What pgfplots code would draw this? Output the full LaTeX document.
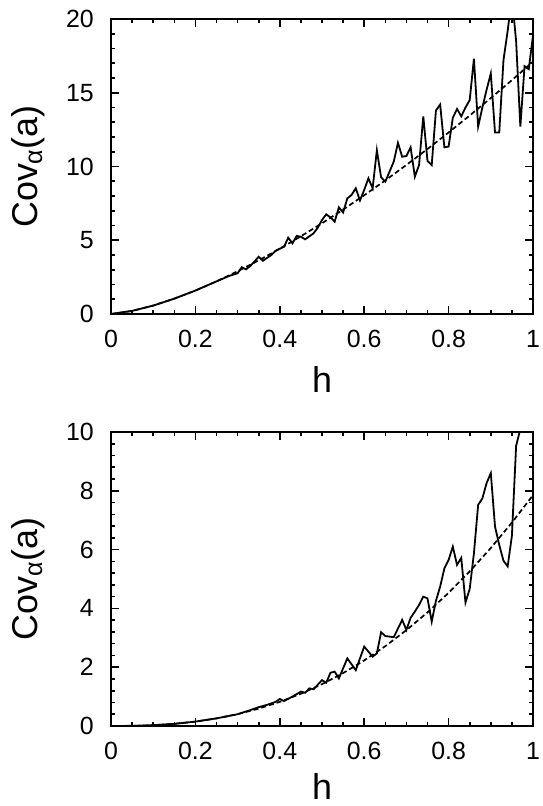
\documentclass[border=0pt]{standalone}
\usepackage{fontspec}
\setmainfont{Liberation Sans}
\usepackage{pgfplots}
\usepackage{pgfplotstable}
\pgfplotsset{compat=1.18}

\pgfplotstableread{
h v
0 0
0.05 0.21
0.10 0.57
0.15 1.04
0.20 1.59
0.25 2.21
0.28 2.58
0.30 2.76
0.31 3.17
0.32 3.03
0.33 3.25
0.35 3.88
0.36 3.61
0.38 4.00
0.39 4.29
0.41 4.56
0.42 5.17
0.43 4.79
0.44 5.29
0.45 5.24
0.46 5.06
0.48 5.47
0.49 5.85
0.50 6.37
0.51 6.76
0.52 6.55
0.53 6.26
0.54 7.23
0.55 6.88
0.56 7.84
0.57 8.07
0.58 8.52
0.59 7.70
0.60 8.41
0.61 9.20
0.62 8.52
0.63 11.1
0.64 9.27
0.65 8.97
0.66 9.65
0.67 10.33
0.68 11.6
0.69 10.66
0.70 10.71
0.71 11.3
0.72 9.31
0.73 10.1
0.74 13.4
0.75 10.37
0.76 10.1
0.77 13.8
0.78 14.2
0.79 11.3
0.80 11.35
0.81 13.3
0.82 13.9
0.83 13.4
0.84 14.0
0.85 14.5
0.86 17.3
0.87 12.7
0.88 14.0
0.89 15.2
0.90 16.3
0.91 12.3
0.92 12.3
0.93 17.2
0.94 19.2
0.95 21.5
0.96 18.5
0.97 12.7
0.98 16.8
0.99 16.6
1.00 18.9
}\topsolid

\pgfplotstableread{
h v
0 0
0.05 0.206
0.10 0.573
0.15 1.042
0.20 1.592
0.25 2.213
0.30 2.895
0.35 3.635
0.40 4.427
0.45 5.266
0.50 6.151
0.55 7.079
0.60 8.049
0.65 9.058
0.70 10.104
0.75 11.187
0.80 12.305
0.85 13.456
0.90 14.640
0.95 15.853
1.00 17.100
}\topdashed

\pgfplotstableread{
h v
0 0
0.05 0.005
0.10 0.027
0.15 0.073
0.20 0.15
0.25 0.26
0.30 0.40
0.33 0.54
0.35 0.64
0.37 0.72
0.39 0.82
0.40 0.92
0.41 0.85
0.43 1.00
0.45 1.17
0.46 1.13
0.47 1.28
0.48 1.25
0.50 1.56
0.51 1.47
0.52 1.81
0.53 1.85
0.54 1.62
0.56 2.30
0.58 1.90
0.60 2.70
0.62 2.36
0.63 2.47
0.64 3.19
0.65 3.06
0.67 3.02
0.69 3.61
0.70 3.27
0.71 3.68
0.72 3.89
0.73 4.12
0.74 4.40
0.75 4.34
0.76 3.55
0.77 4.26
0.78 4.74
0.79 5.36
0.80 5.65
0.81 6.10
0.82 5.48
0.83 5.72
0.84 4.20
0.85 4.66
0.86 5.87
0.87 7.52
0.88 7.74
0.89 8.26
0.90 8.60
0.91 6.78
0.92 6.16
0.93 5.62
0.94 5.43
0.95 6.47
0.96 9.53
0.97 10.1
0.98 10.6
0.99 11.0
1.00 11.5
}\botsolid

\pgfplotstableread{
h v
0 0
0.05 0.005
0.10 0.027
0.15 0.073
0.20 0.149
0.25 0.258
0.30 0.404
0.35 0.591
0.40 0.821
0.45 1.097
0.50 1.423
0.55 1.799
0.60 2.230
0.65 2.715
0.70 3.260
0.75 3.864
0.80 4.530
0.85 5.260
0.90 6.054
0.95 6.918
1.00 7.850
}\botdashed

\pgfplotsset{
  myaxis/.style={
    scale only axis, width=422bp,
    xmin=0, xmax=1, xtick={0,0.2,0.4,0.6,0.8,1}, minor x tick num=3,
    tick align=inside,
    major tick length=8bp, minor tick length=4bp,
    axis line style={line width=2bp},
    every tick/.style={line width=1.6bp, black},
    tick label style={font=\fontsize{25}{28}\selectfont, inner sep=0pt},
    xticklabel style={yshift=-16bp},
    yticklabel style={xshift=-17bp},
    /pgf/number format/assume math mode=true,
    xlabel={h}, ylabel={Cov\textsubscript{α}(a)},
    label style={font=\fontsize{36}{40}\selectfont, inner sep=0pt},
    xlabel style={at={(axis description cs:0.5,-0.2237)}, anchor=center},
    ylabel style={at={(axis description cs:-0.1967,0.5)}, anchor=center},
    solidline/.style={black, line width=1.8bp},
    dashline/.style={black, line width=1.7bp, dash pattern=on 5bp off 3bp},
  }
}

\begin{document}
\begin{tikzpicture}
\useasboundingbox (0,0) rectangle (543bp,806bp);
\begin{axis}[myaxis, at={(111bp,492bp)}, anchor=south west, height=295bp,
  ymin=0, ymax=20, ytick={0,5,10,15,20}, minor y tick num=4]
  \addplot[solidline] table[x=h,y=v] {\topsolid};
  \addplot[dashline] table[x=h,y=v] {\topdashed};
\end{axis}
\begin{axis}[myaxis, at={(111bp,80bp)}, anchor=south west, height=294bp,
  ymin=0, ymax=10, ytick={0,2,4,6,8,10}, minor y tick num=4,
  xlabel style={at={(axis description cs:0.5,-0.205)}, anchor=center}]
  \addplot[solidline] table[x=h,y=v] {\botsolid};
  \addplot[dashline] table[x=h,y=v] {\botdashed};
\end{axis}
\end{tikzpicture}
\end{document}
